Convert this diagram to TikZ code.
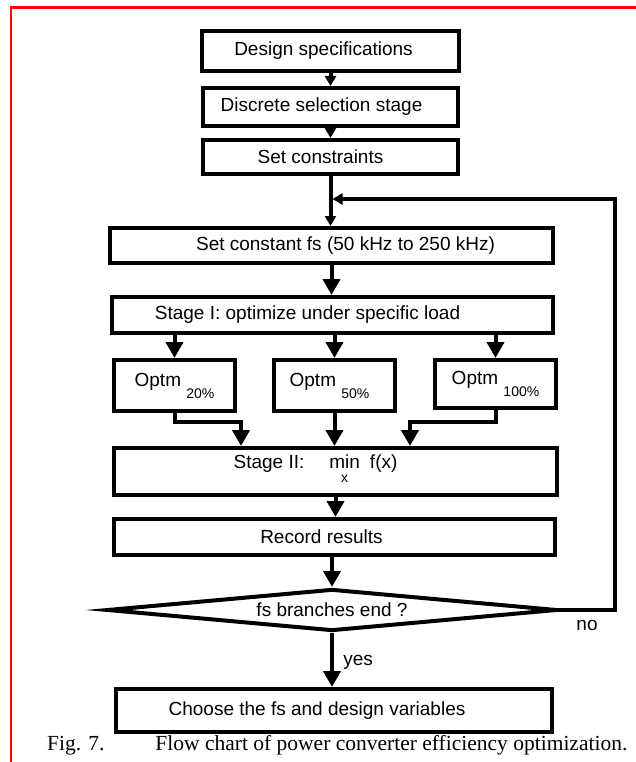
\documentclass[tikz,border=0pt]{standalone}
\usepackage{fontspec}
\setmainfont{Liberation Serif}
\setsansfont{Liberation Sans}
\usetikzlibrary{arrows.meta,shapes.geometric}
\newcommand\sub[1]{\raisebox{-12pt}{\fontsize{14}{14}\selectfont #1}}

\begin{document}
\begin{tikzpicture}[x=1pt, y=-1pt,
    every node/.style={font=\sffamily\fontsize{19}{22}\selectfont},
    box/.style={draw, line width=4pt, inner sep=0pt},
    flow/.style={line width=4pt, -{Triangle[length=16pt,width=17pt]}},
    flowsm/.style={line width=4pt, -{Triangle[length=10pt,width=11pt]}}]
    \useasboundingbox (0,0) rectangle (636,762);
    \draw[red, line width=3pt] (9.5,7.5) -- (636,7.5);
    \draw[red, line width=2pt] (10.5,7.5) -- (10.5,762);

    \node[box, minimum width=257pt, minimum height=40pt] (spec) at (330.5,51) {Design specifications\hspace*{14pt}};
    \node[box, minimum width=255pt, minimum height=38pt] (disc) at (330.5,107) {Discrete selection stage\hspace*{18pt}};
    \node[box, minimum width=255pt, minimum height=34pt] (cons) at (330.5,157) {Set constraints\hspace*{20pt}};
    \node[box, minimum width=443pt, minimum height=35pt] (fs) at (331.5,245.5) {\hspace*{28pt}Set constant fs (50 kHz to 250 kHz)};
    \node[box, minimum width=441pt, minimum height=36pt] (s1) at (332.5,315) {Stage I: optimize under specific load\hspace*{50pt}};
    \node[box, minimum width=121pt, minimum height=51pt] (o20) at (174.5,385.5) {Optm \sub{20\%}};
    \node[box, minimum width=121pt, minimum height=51pt] (o50) at (334.5,385.5) {Optm \sub{50\%}\hspace*{10pt}};
    \node[box, minimum width=121pt, minimum height=48pt] (o100) at (495.5,384) {Optm \sub{100\%}};
    \node[box, minimum width=443pt, minimum height=47pt] (s2) at (335.5,471.5)
        {Stage II:\hspace{25pt}\begin{tabular}[t]{@{}c@{}}min\\[-8pt]{\fontsize{14}{14}\selectfont x}\end{tabular}\hspace{10pt}f(x)\hspace*{40pt}};
    \node[box, minimum width=441pt, minimum height=36pt] (rec) at (334.5,537) {Record results\hspace*{26pt}};
    \node[box, diamond, shape aspect=10, miter limit=12, minimum width=450pt, minimum height=42pt] (dec) at (332,610) {fs branches end ?};
    \node[box, minimum width=436pt, minimum height=43pt] (ch) at (334,710.5) {Choose the fs and design variables\hspace*{34pt}};
    \node[font=\rmfamily\fontsize{21.5}{25}\selectfont, anchor=base west, inner sep=0pt] (cap) at (47,750)
        {Fig. 7.\hspace{2.37em}Flow chart of power converter efficiency optimization.};

    \coordinate (fbin) at (332.5,199);
    \coordinate (fbtop) at (615,199);

    \draw[flowsm] (spec.south) -- (disc.north);
    \draw[flowsm] (disc.south) -- (cons.north);
    \draw[flowsm] (cons.south) -- (cons.south |- fs.north);
    \draw[flowsm] (dec.east) -- node[below=5pt] (no) {no} (dec.east -| fbtop) -- (fbtop) -- (fbin);
    \draw[flow] (fs.south) -- (fs.south |- s1.north);
    \foreach \o in {o20,o50,o100} {
        \draw[flow] (\o.north |- s1.south) -- (\o.north);
    }
    \draw[flow] (o20.south) -- ++(0,9) -| ([xshift=-94.5pt]s2.north);
    \draw[flow] (o50.south) -- (o50.south |- s2.north);
    \draw[flow] (o100.south) -- ++(0,12) -| ([xshift=74.5pt]s2.north);
    \draw[flow] (s2.south) -- (s2.south |- rec.north);
    \draw[flow] (dec.north |- rec.south) -- (dec.north);
    \draw[flow] (dec.south) -- node[right=6pt, pos=0.55] (yes) {yes} (dec.south |- ch.north);
\end{tikzpicture}
\end{document}
